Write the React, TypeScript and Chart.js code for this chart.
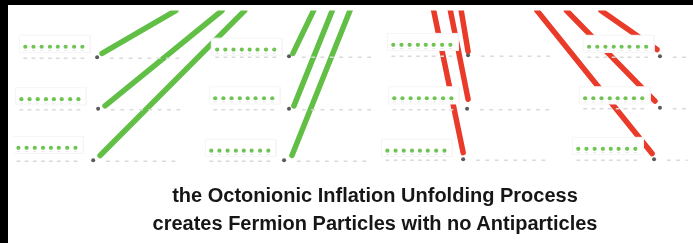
import { useEffect, useRef } from "react";
import { Chart, registerables } from "chart.js";

Chart.register(...registerables);

// Diagram data (coordinates in the picture's own units: x to the right, y downward)
const titleLines = [
  "the Octonionic Inflation Unfolding Process",
  "creates Fermion Particles with no Antiparticles",
];

// each column holds three rows; first green dot x, green dot row y
const dotRowX0 = [
  [20, 16, 13],
  [215, 213, 209],
  [394, 395, 388],
  [593, 589, 582],
];
const dotRowY = [
  [43, 98, 149],
  [46, 97, 152],
  [41, 97, 152],
  [43, 97, 150],
];
// grey node at the end of each row
const nodeX = [
  [93, 94, 89],
  [288, 288, 283],
  [470, 469, 465],
  [665, 665, 659],
];
const nodeY = [
  [54, 108, 162],
  [53, 108, 162],
  [52, 108, 161],
  [53, 107, 161],
];
const dotOffsets = [0, 8.3, 16.6, 25, 33, 41, 49.6, 58];
const dashOffsets = [15, 24.5, 34, 43.5, 53, 62.5, 72, 81.5];

// green (particle) strokes: from near a node up to the top edge
const greenFrom = [[98, 50], [101, 105], [96, 157], [292, 50], [293, 105], [291, 157]];
const greenTo = [[173, 5], [220, 5], [243, 5], [313, 5], [332, 5], [350, 5]];
// red strokes
const redFrom = [[470, 48], [470, 98], [465, 154], [662, 46], [660, 100], [657, 155]];
const redTo = [[463, 5], [452, 5], [435, 5], [605, 5], [570, 5], [540, 5]];

const GREEN = "#62bf45";
const RED = "#ea3b2a";

export default function App() {
  const ref = useRef<HTMLCanvasElement | null>(null);

  useEffect(() => {
    if (!ref.current) return;
    const datasets: any[] = [];

    const lineSet = (from: number[], to: number[], color: string) => ({
      type: "line",
      data: [
        { x: from[0], y: from[1] },
        { x: to[0], y: to[1] },
      ],
      showLine: true,
      borderColor: color,
      borderWidth: 5.5,
      borderCapStyle: "round",
      pointRadius: 0,
      fill: false,
      order: 5,
    });
    greenFrom.forEach((f, i) => datasets.push(lineSet(f, greenTo[i], GREEN)));
    redFrom.forEach((f, i) => datasets.push(lineSet(f, redTo[i], RED)));

    const greenDots: any[] = [];
    const dotTicks: any[] = [];
    const leftDashes: any[] = [];
    const rightDashes: any[] = [];
    const nodes: any[] = [];

    dotRowX0.forEach((col, c) => {
      col.forEach((x0, r) => {
        const y = dotRowY[c][r];
        const xl = x0 + dotOffsets[dotOffsets.length - 1];
        const bx0 = x0 - 6;
        const bx1 = xl + 8;
        const by0 = y - 12;
        const by1 = y + 6;
        datasets.push({
          type: "line",
          data: [
            { x: bx0, y: by0 },
            { x: bx1, y: by0 },
            { x: bx1, y: by1 },
            { x: bx0, y: by1 },
            { x: bx0, y: by0 },
          ],
          showLine: true,
          borderColor: "#f5f5f5",
          borderWidth: 1,
          backgroundColor: "#ffffff",
          fill: "shape",
          pointRadius: 0,
          tension: 0,
          order: 4,
        });
        dotOffsets.forEach((o) => {
          greenDots.push({ x: x0 + o, y });
          dotTicks.push({ x: x0 + o, y: y + 4 });
          leftDashes.push({ x: x0 + o, y: nodeY[c][r] + 1 });
        });
        dashOffsets.forEach((o) => {
          rightDashes.push({ x: nodeX[c][r] + o, y: nodeY[c][r] + 1 });
        });
        nodes.push({ x: nodeX[c][r], y: nodeY[c][r] });
      });
    });

    datasets.push({
      type: "scatter",
      data: leftDashes.concat(rightDashes),
      pointStyle: "line",
      pointRadius: 1.9,
      borderColor: "#dadada",
      borderWidth: 1.5,
      order: 3,
    });
    datasets.push({
      type: "scatter",
      data: dotTicks,
      pointStyle: "line",
      pointRadius: 1.5,
      borderColor: "#e6e6e6",
      borderWidth: 1,
      order: 3,
    });
    datasets.push({
      type: "scatter",
      data: greenDots,
      pointStyle: "circle",
      pointRadius: 2.1,
      backgroundColor: "#70c453",
      borderWidth: 0,
      order: 2,
    });
    datasets.push({
      type: "scatter",
      data: nodes,
      pointStyle: "circle",
      pointRadius: 2,
      backgroundColor: "#5a5a5a",
      borderWidth: 0,
      order: 1,
    });

    const chart = new Chart(ref.current, {
      type: "scatter",
      data: { datasets },
      options: {
        animation: false,
        responsive: false,
        events: [],
        layout: { padding: 0 },
        plugins: {
          legend: { display: false },
          tooltip: { enabled: false },
          title: { display: false },
        },
        scales: {
          x: { type: "linear", min: 8, max: 693, display: false },
          y: { type: "linear", min: 5, max: 243, reverse: true, display: false },
        },
      },
    });
    return () => chart.destroy();
  }, []);

  return (
    <div
      style={{
        position: "fixed",
        left: 0,
        top: 0,
        width: 693,
        height: 243,
        background: "#000",
        overflow: "hidden",
      }}
    >
      <canvas
        ref={ref}
        width={685}
        height={238}
        style={{ position: "absolute", left: 8, top: 5, width: 685, height: 238, background: "#fff" }}
      />
      <div
        style={{
          position: "absolute",
          left: 0,
          top: 181,
          width: 750,
          textAlign: "center",
          fontFamily: '"Liberation Sans", Arial, sans-serif',
          fontWeight: "bold",
          fontSize: 20,
          lineHeight: "28px",
          color: "#161616",
          whiteSpace: "nowrap",
        }}
      >
        {titleLines.map((t, i) => (
          <div key={i}>{t}</div>
        ))}
      </div>
    </div>
  );
}
